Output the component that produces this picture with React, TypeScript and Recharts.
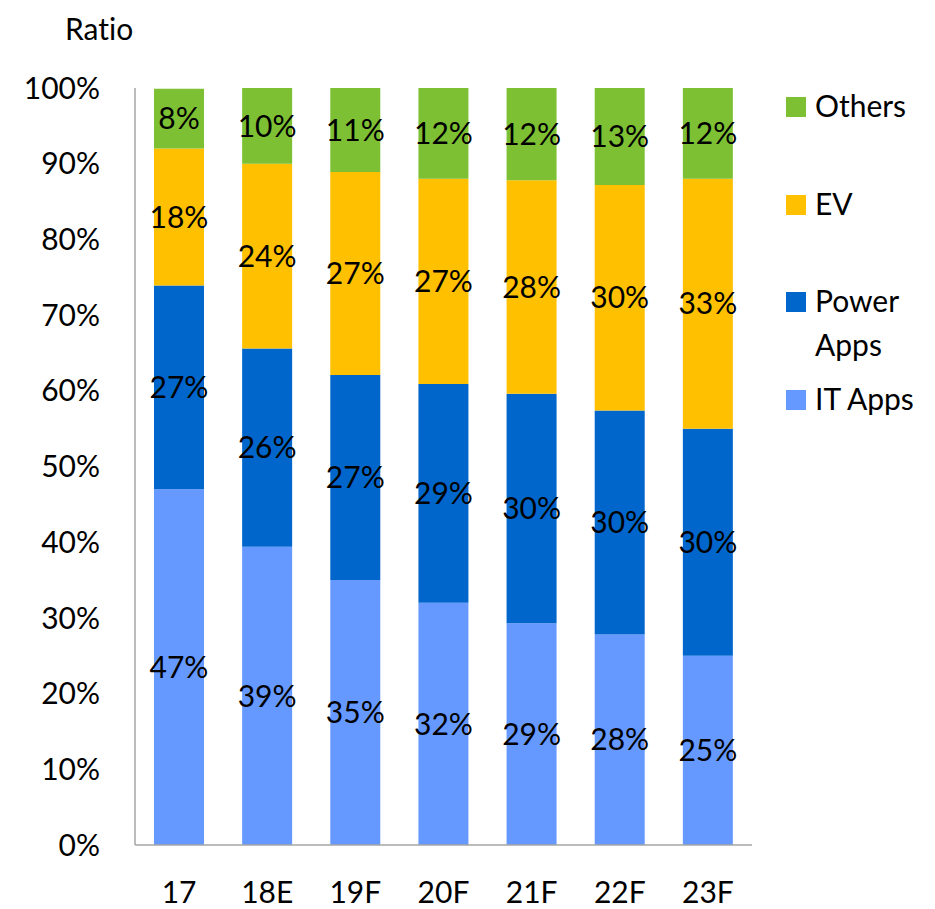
import { BarChart, Bar, XAxis, YAxis, LabelList } from "recharts";

const years = ["17", "18E", "19F", "20F", "21F", "22F", "23F"];
const itApps = [47.0, 39.4, 35.0, 32.0, 29.3, 27.8, 25.0];
const powerApps = [26.9, 26.2, 27.1, 28.9, 30.3, 29.6, 30.0];
const ev = [18.1, 24.4, 26.8, 27.1, 28.2, 29.8, 33.0];
const others = [7.9, 10.0, 11.1, 12.0, 12.2, 12.8, 12.0];
const yTicks = [0, 10, 20, 30, 40, 50, 60, 70, 80, 90, 100];

const FONT = "Lato, 'Open Sans', sans-serif";

const data = years.map((year, i) => ({
  year,
  itApps: itApps[i],
  powerApps: powerApps[i],
  ev: ev[i],
  others: others[i],
}));

// legend order is top-down, reverse of the stack
const legendItems = [
  { name: "Others", color: "#7DC033", top: 0 },
  { name: "EV", color: "#FFC000", top: 98 },
  { name: "Power\nApps", color: "#0066CC", top: 195 },
  { name: "IT Apps", color: "#6699FF", top: 293 },
];

function LegendBox() {
  return (
    <div style={{ position: "absolute", left: 786, top: 97, width: 150, height: 330 }}>
      {legendItems.map((item) => (
        <div key={item.name} style={{ position: "absolute", left: 0, top: item.top }}>
          <div
            style={{
              position: "absolute",
              left: 0,
              top: 0,
              width: 20,
              height: 20,
              background: item.color,
            }}
          />
          <div
            style={{
              position: "absolute",
              left: 29,
              top: -14,
              fontSize: 30,
              lineHeight: "44px",
              color: "#000",
              whiteSpace: "pre",
            }}
          >
            {item.name}
          </div>
        </div>
      ))}
    </div>
  );
}

const pct = (v: any) => `${Math.round(Number(v))}%`;
const labelStyle = { fill: "#000", fontSize: 30, fontFamily: FONT };

export default function App() {
  return (
    <div
      style={{
        position: "absolute",
        left: 0,
        top: 0,
        width: 935,
        height: 909,
        background: "#fff",
        fontFamily: FONT,
        fontVariantLigatures: "none",
      }}
    >
      <div
        style={{
          position: "absolute",
          left: 65,
          top: 10,
          fontSize: 30,
          color: "#000",
          lineHeight: "36px",
        }}
      >
        Ratio
      </div>
      <BarChart
        width={935}
        height={909}
        data={data}
        margin={{ top: 88, right: 183, bottom: 0, left: 0 }}
        barSize={50}
      >
        <XAxis
          dataKey="year"
          height={64}
          tickLine={false}
          tickSize={0}
          tickMargin={37}
          axisLine={{ stroke: "#A6A6A6", strokeWidth: 1.5 }}
          tick={{ fill: "#000", fontSize: 30, fontFamily: FONT }}
        />
        <YAxis
          width={135}
          domain={[0, 100]}
          ticks={yTicks}
          tickLine={false}
          tickSize={0}
          tickMargin={35}
          tickFormatter={(v: number) => `${v}%`}
          axisLine={{ stroke: "#A6A6A6", strokeWidth: 1.5 }}
          tick={{ fill: "#000", fontSize: 30, fontFamily: FONT }}
        />
        <Bar dataKey="itApps" name="IT Apps" stackId="a" fill="#6699FF" isAnimationActive={false}>
          <LabelList dataKey="itApps" position="center" formatter={pct} style={labelStyle} />
        </Bar>
        <Bar dataKey="powerApps" name="Power Apps" stackId="a" fill="#0066CC" isAnimationActive={false}>
          <LabelList dataKey="powerApps" position="center" formatter={pct} style={labelStyle} />
        </Bar>
        <Bar dataKey="ev" name="EV" stackId="a" fill="#FFC000" isAnimationActive={false}>
          <LabelList dataKey="ev" position="center" formatter={pct} style={labelStyle} />
        </Bar>
        <Bar dataKey="others" name="Others" stackId="a" fill="#7DC033" isAnimationActive={false}>
          <LabelList dataKey="others" position="center" formatter={pct} style={labelStyle} />
        </Bar>
      </BarChart>
      <LegendBox />
    </div>
  );
}
